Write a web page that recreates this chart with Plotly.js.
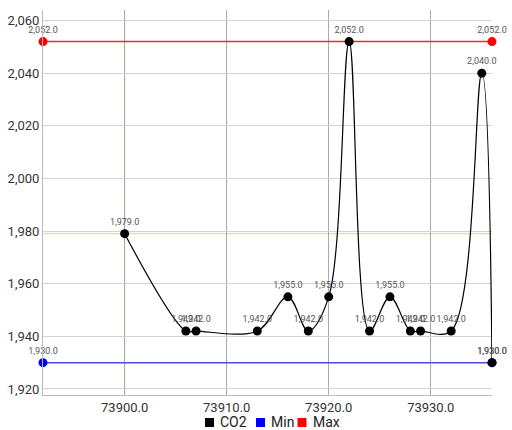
<!DOCTYPE html>
<html>
<head>
<meta charset="utf-8">
<script src="https://cdn.plot.ly/plotly-3.0.1.min.js"></script>
<style>html,body{margin:0;padding:0;background:#fff;}#chart{width:512px;height:430px;}</style>
</head>
<body>
<div id="chart"></div>
<script>
const co2X = [73900, 73906, 73907, 73913, 73916, 73918, 73920, 73922, 73924, 73926, 73928, 73929, 73932, 73935, 73936];
const co2Y = [1979, 1942, 1942, 1942, 1955, 1942, 1955, 2052, 1942, 1955, 1942, 1942, 1942, 2040, 1930];
const minX = [73892, 73936];
const minY = [1930, 1930];
const maxX = [73892, 73936];
const maxY = [2052, 2052];
const highlightX = 73900;
const highlightY = 1979;
const xTicks = [73900, 73910, 73920, 73930];
const yTicks = [1920, 1940, 1960, 1980, 2000, 2020, 2040, 2060];
const seriesNames = ['CO2', 'Min', 'Max'];
const seriesColors = ['#000000', '#0000ff', '#ff0000'];

const labelFont = {family: 'Roboto, sans-serif', size: 9, color: '#555'};
const traces = [
  {x: minX, y: minY, name: seriesNames[1], mode: 'lines+markers+text', line: {color: '#4d4dd9', width: 1.5},
   marker: {color: seriesColors[1], size: 9}, texttemplate: '%{y:,.1f}', textposition: 'top center',
   textfont: labelFont, cliponaxis: false},
  {x: maxX, y: maxY, name: seriesNames[2], mode: 'lines+markers+text', line: {color: '#e03030', width: 1.5},
   marker: {color: seriesColors[2], size: 9}, texttemplate: '%{y:,.1f}', textposition: 'top center',
   textfont: labelFont, cliponaxis: false},
  {x: co2X, y: co2Y, name: seriesNames[0], mode: 'lines+markers+text', line: {color: '#000', width: 1.2, shape: 'spline', smoothing: 1},
   marker: {color: seriesColors[0], size: 9}, texttemplate: '%{y:,.1f}', textposition: 'top center',
   textfont: labelFont, cliponaxis: false}
];

// legend layout (paper coordinates of plot area 43..492 px wide)
const legendSquareX = [0.3708, 0.4844, 0.5768];
const legendTextX = [0.3900, 0.5030, 0.5970];
const legendY = -0.0714;

const shapes = [
  {type: 'line', xref: 'x', yref: 'paper', x0: highlightX, x1: highlightX, y0: 0, y1: 1,
   line: {color: '#ecd6a6', width: 1.2}, layer: 'below'},
  {type: 'line', xref: 'paper', yref: 'y', x0: 0, x1: 1, y0: highlightY, y1: highlightY,
   line: {color: '#ecd6a6', width: 1.2}, layer: 'below'}
];
const annotations = [];
seriesNames.forEach((n, i) => {
  shapes.push({type: 'rect', xref: 'paper', yref: 'paper', xsizemode: 'pixel', ysizemode: 'pixel',
    xanchor: legendSquareX[i], yanchor: legendY, x0: -4.5, x1: 4.5, y0: -4.5, y1: 4.5,
    fillcolor: seriesColors[i], line: {width: 0}});
  annotations.push({xref: 'paper', yref: 'paper', x: legendTextX[i], y: legendY, xanchor: 'left', yanchor: 'middle',
    text: n, showarrow: false, font: {size: 14, color: '#222'}});
});

const layout = {
  width: 512, height: 430,
  margin: {l: 43, r: 20, t: 10, b: 35},
  paper_bgcolor: '#fff', plot_bgcolor: '#fff',
  font: {family: 'Roboto, sans-serif', color: '#333'},
  showlegend: false,
  annotations: annotations,
  xaxis: {range: [73892, 73936], tickvals: xTicks, tickformat: '.1f', showgrid: true, gridcolor: '#aaaaaa',
          gridwidth: 1, zeroline: false, showline: true, linecolor: '#bbbbbb', ticks: '',
          tickfont: {size: 13, color: '#333'}, automargin: false},
  yaxis: {range: [1917.7, 2064], tickvals: yTicks, tickformat: ',d', showgrid: true, gridcolor: '#d3d3d3',
          gridwidth: 1, zeroline: false, showline: true, linecolor: '#bbbbbb', ticks: '',
          tickfont: {size: 13, color: '#333'}, automargin: false},
  shapes: shapes
};
Plotly.newPlot('chart', traces, layout, {displayModeBar: false, staticPlot: true});
</script>
</body>
</html>
